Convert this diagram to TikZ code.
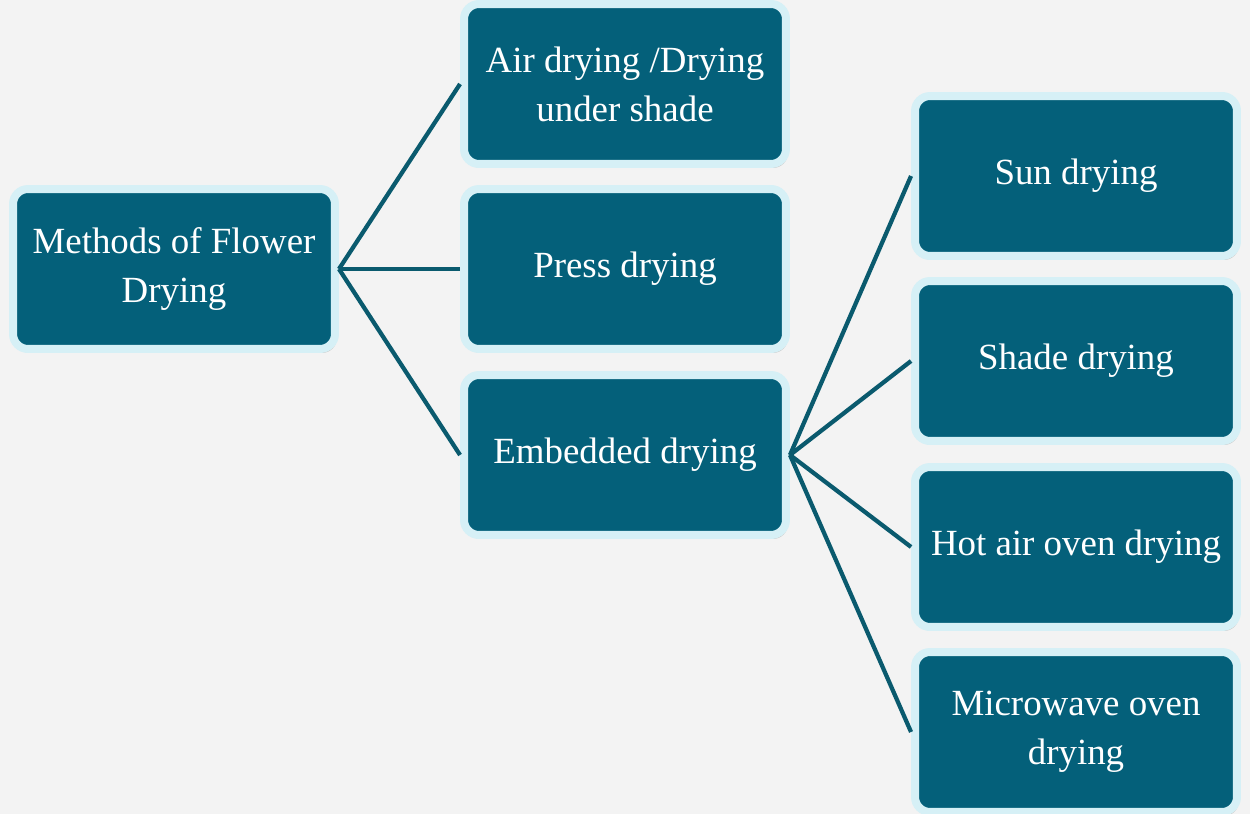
\documentclass[tikz,border=0pt]{standalone}
\usepackage{fontspec}
\setmainfont{Liberation Serif}
\usepackage{tikz}
\usetikzlibrary{shadows}

\definecolor{boxfill}{HTML}{04607A}
\definecolor{boxrim}{HTML}{D6F0F6}
\definecolor{linkcol}{HTML}{0A5A6E}
\definecolor{bgcol}{HTML}{F3F3F3}

\tikzset{
  methodbox/.style={draw=boxrim, fill=boxfill, line width=0.16cm, rounded corners=0.3cm,
    minimum width=6.44cm, minimum height=3.2cm, align=center, text=white,
    font=\fontsize{21}{28}\selectfont,
    drop shadow={opacity=0.35, shadow xshift=0.04cm, shadow yshift=-0.08cm}},
  link/.style={draw=linkcol, line width=0.085cm}
}

\begin{document}
\begin{tikzpicture}[x=0.02cm,y=-0.02cm]
\fill[bgcol] (0,0) rectangle (1250,814);
\useasboundingbox (0,0) rectangle (1250,814);
% first level
\node[methodbox] (root) at (174,269) {Methods of Flower\\Drying};
\node[methodbox] (air) at (625,84) {Air drying /Drying\\under shade};
\node[methodbox] (press) at (625,269) {Press drying};
\node[methodbox] (embed) at (625,455) {Embedded drying};
% second level
\node[methodbox] (sun) at (1076,176) {Sun drying};
\node[methodbox] (shade) at (1076,361) {Shade drying};
\node[methodbox] (hot) at (1076,547) {Hot air oven drying};
\node[methodbox] (micro) at (1076,732) {Microwave oven\\drying};
% links
\draw[link] (root.east) -- (air.west);
\draw[link] (root.east) -- (press.west);
\draw[link] (root.east) -- (embed.west);
\draw[link] (embed.east) -- (sun.west);
\draw[link] (embed.east) -- (shade.west);
\draw[link] (embed.east) -- (hot.west);
\draw[link] (embed.east) -- (micro.west);
\end{tikzpicture}
\end{document}
